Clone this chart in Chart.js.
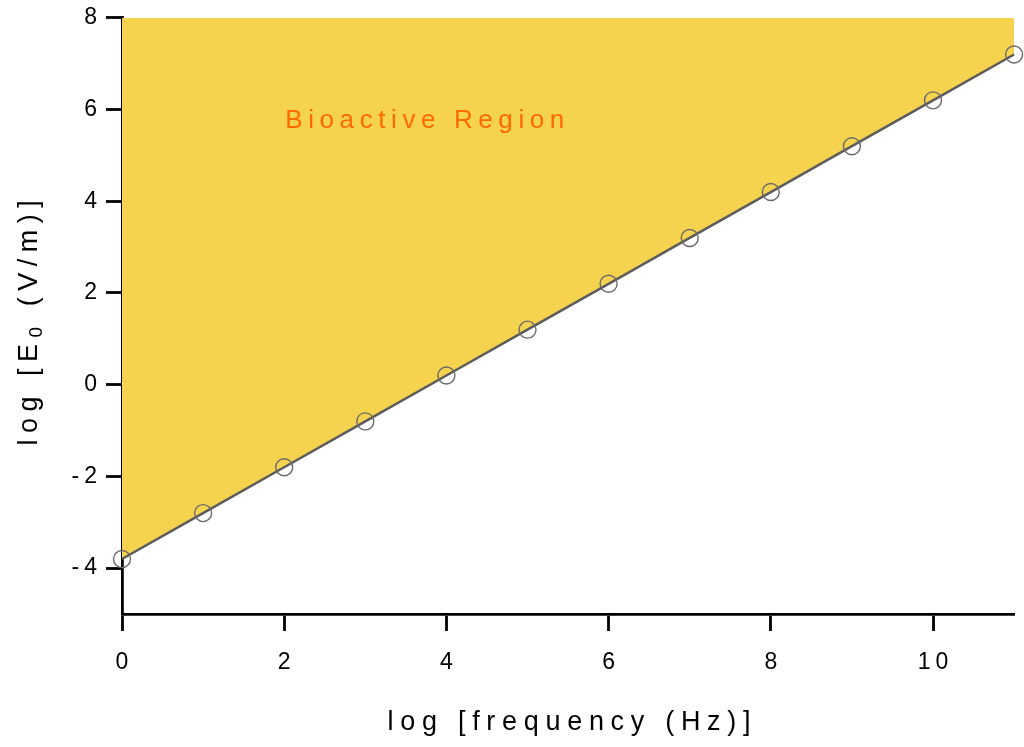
<!DOCTYPE html>
<html>
<head>
<meta charset="utf-8">
<title>Bioactive Region</title>
<script src="https://cdn.jsdelivr.net/npm/chart.js@4/dist/chart.umd.min.js"></script>
<style>
  html, body { margin: 0; padding: 0; background: #fff; }
  canvas { display: block; }
</style>
</head>
<body>
<canvas id="chart" width="1024" height="747"></canvas>
<script>
// log10 of frequency (Hz) and threshold field log10 E0 (V/m)
const logFrequency = [0, 1, 2, 3, 4, 5, 6, 7, 8, 9, 10, 11];
const logField = [-3.8, -2.8, -1.8, -0.8, 0.2, 1.2, 2.2, 3.2, 4.2, 5.2, 6.2, 7.2];
const xTickValues = [0, 2, 4, 6, 8, 10];
const yTickValues = [-4, -2, 0, 2, 4, 6, 8];
const regionLabel = 'Bioactive Region';
const xTitle = 'log [frequency (Hz)]';
const yTitleParts = ['log [E', '0', ' (V/m)]'];

const FONT = '"Liberation Sans", Arial, sans-serif';
const TICK_SPACING = 5;

// tick labels are drawn with wide letter spacing
const spacingPlugin = {
  id: 'spacing',
  beforeDraw(chart) { chart.ctx.letterSpacing = TICK_SPACING + 'px'; }
};

const labelsPlugin = {
  id: 'labels',
  afterDraw(chart) {
    const { ctx, chartArea, scales } = chart;
    ctx.save();
    ctx.fillStyle = '#000';
    ctx.textBaseline = 'middle';

    // x axis title
    ctx.letterSpacing = '6.7px';
    ctx.font = '27px ' + FONT;
    ctx.textAlign = 'left';
    const wx = ctx.measureText(xTitle).width - 6.7;
    ctx.fillText(xTitle, (chartArea.left + chartArea.right) / 2 - wx / 2 + 1, 723);

    // y axis title with subscript
    ctx.save();
    ctx.translate(30, (chartArea.top + chartArea.bottom) / 2 + 7);
    ctx.rotate(-Math.PI / 2);
    ctx.textAlign = 'left';
    ctx.letterSpacing = '6.5px';
    const big = '27px ' + FONT, small = '19px ' + FONT;
    ctx.font = big; const w0 = ctx.measureText(yTitleParts[0]).width;
    ctx.font = small; const w1 = ctx.measureText(yTitleParts[1]).width;
    ctx.font = big; const w2 = ctx.measureText(yTitleParts[2]).width;
    let x = -(w0 + w1 + w2 - 6.5) / 2;
    ctx.font = big; ctx.fillText(yTitleParts[0], x, 0); x += w0;
    ctx.font = small; ctx.fillText(yTitleParts[1], x, 7); x += w1;
    ctx.font = big; ctx.fillText(yTitleParts[2], x, 0);
    ctx.restore();

    // region annotation
    ctx.letterSpacing = '5.6px';
    ctx.font = '26px ' + FONT;
    ctx.fillStyle = '#ff6a00';
    ctx.textAlign = 'left';
    ctx.fillText(regionLabel, scales.x.getPixelForValue(2) + 1, scales.y.getPixelForValue(5.75));
    ctx.restore();
  }
};

new Chart(document.getElementById('chart'), {
  type: 'line',
  data: {
    labels: logFrequency,
    datasets: [{
      data: logFrequency.map((f, i) => ({ x: f, y: logField[i] })),
      borderColor: '#5c5c5c',
      borderWidth: 2.5,
      backgroundColor: '#f6d34f',
      fill: 'end',
      tension: 0,
      clip: false,
      pointRadius: 8.5,
      pointBorderWidth: 1.4,
      pointBorderColor: '#6a6a6a',
      pointBackgroundColor: 'rgba(0,0,0,0)',
      pointHoverRadius: 8.5
    }]
  },
  options: {
    responsive: false,
    animation: false,
    devicePixelRatio: 1,
    layout: { padding: { top: 16, right: 8, left: 0, bottom: 0 } },
    plugins: { legend: { display: false }, tooltip: { enabled: false }, title: { display: false } },
    scales: {
      x: {
        type: 'linear',
        min: 0,
        max: 11,
        afterFit(s) { s.height = 133; },
        afterBuildTicks(s) { s.ticks = xTickValues.map(v => ({ value: v })); },
        grid: { drawOnChartArea: false, drawTicks: true, tickLength: 17, tickWidth: 2.8, tickColor: '#000' },
        border: { display: true, color: '#000', width: 2.8 },
        ticks: { color: '#000', font: { family: FONT, size: 23 }, padding: 18, labelOffset: TICK_SPACING / 2, maxRotation: 0 }
      },
      y: {
        type: 'linear',
        min: -5,
        max: 8,
        afterFit(s) { s.width = 122; },
        afterBuildTicks(s) { s.ticks = yTickValues.map(v => ({ value: v })); },
        grid: { drawOnChartArea: false, drawTicks: true, tickLength: 16, tickWidth: 2.8, tickColor: '#000' },
        border: { display: true, color: '#000', width: 2.8 },
        ticks: { color: '#000', font: { family: FONT, size: 23 }, padding: 4 }
      }
    }
  },
  plugins: [spacingPlugin, labelsPlugin]
});
</script>
</body>
</html>
